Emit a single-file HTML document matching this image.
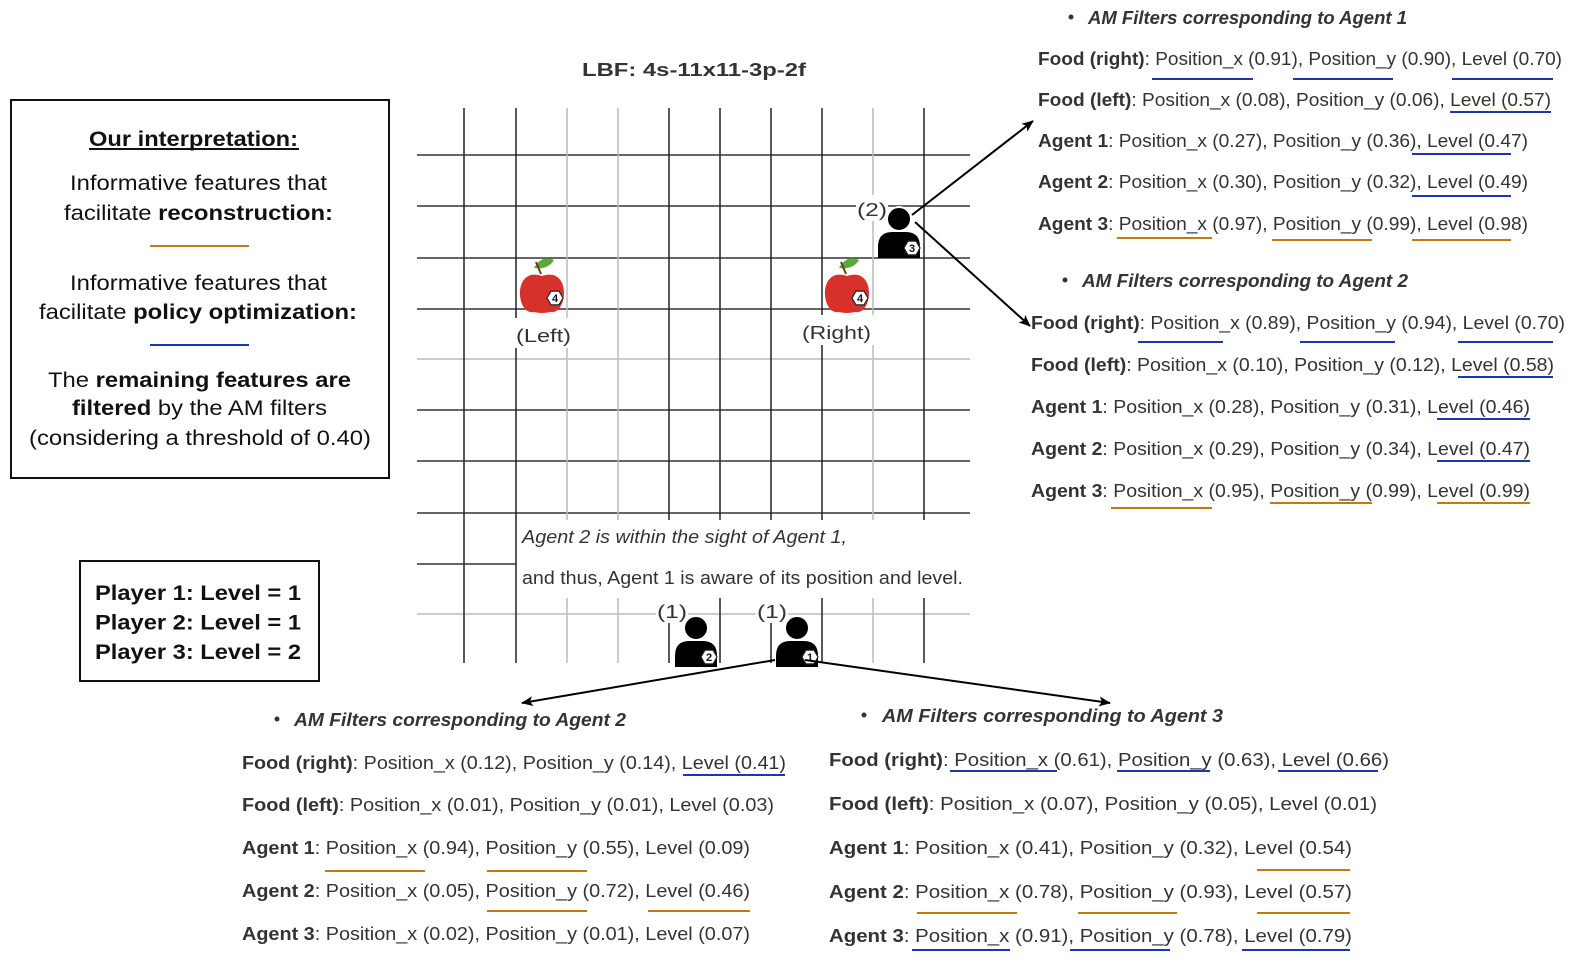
<!DOCTYPE html>
<html><head><meta charset="utf-8"><style>
html,body{margin:0;padding:0;background:#fff;overflow:hidden;}
svg{display:block;}
.t{font-family:"Liberation Sans",sans-serif;font-size:18px;fill:#333;}
.b{font-weight:bold;}
.lb{font-family:"Liberation Sans",sans-serif;font-size:21px;fill:#111;}
</style></head><body>
<svg id="fig" width="1578" height="962" viewBox="0 0 1578 962" xmlns="http://www.w3.org/2000/svg">
<defs>
<marker id="ah" markerWidth="12" markerHeight="10" refX="11" refY="5" orient="auto" markerUnits="userSpaceOnUse"><path d="M0,0 L12,5 L0,10 L3,5 Z" fill="#000"/></marker>
</defs>
<g id="grid"></g>
<g id="overlay"></g>
</svg>
<script>
const NS='http://www.w3.org/2000/svg';
const svg=document.getElementById('fig');
const grid=document.getElementById('grid');
const ov=document.getElementById('overlay');
const colX=[464,516,567,618,669,720,771,822,873,924];
const colLight=[false,false,true,true,false,false,false,false,true,false];
const rowY=[155,206,258,309,359,410,461,513,564,614];
const rowLight=[false,false,false,false,true,false,false,false,false,true];
function mk(tag,attrs,parent){const e=document.createElementNS(NS,tag);for(const k in attrs)e.setAttribute(k,attrs[k]);(parent||ov).appendChild(e);return e;}
rowY.forEach((y,i)=>{
  const x2 = (y===564)?516:970;
  const l=mk('line',{x1:417,y1:y,x2:x2,y2:y,stroke:rowLight[i]?'#ccc':'#333','stroke-width':rowLight[i]?2:1.5},grid);
  
  
});
colX.forEach((x,i)=>{
  const l=mk('line',{x1:x,y1:108,x2:x,y2:663,stroke:colLight[i]?'#bbb':'#222','stroke-width':1.5},grid);
  
  
});
mk('rect',{x:518,y:520,width:455,height:78,fill:'#fff'},grid);
mk('rect',{x:507,y:318,width:70,height:30,fill:'#fff'},grid);
mk('rect',{x:797,y:315,width:80,height:30,fill:'#fff'},grid);

function T(x,y,html,opts){
  opts=opts||{};
  const e=mk('text',Object.assign({x:x,y:y,class:opts.cls||'t'},opts.attrs||{}));
  e.innerHTML=html;
  if(opts.len){e.setAttribute('textLength',opts.len);e.setAttribute('lengthAdjust','spacingAndGlyphs');}
  return e;
}
function U(x1,x2,y,c){mk('line',{x1:x1,y1:y,x2:x2,y2:y,stroke:c,'stroke-width':2});}
const BL='#1c34b8', OR='#c4790f';

const title=T(582,76,'LBF: 4s-11x11-3p-2f',{attrs:{'font-weight':'bold','font-size':'21',fill:'#111'},len:224});



const box=mk('rect',{x:11,y:100,width:378,height:378,fill:'#fff',stroke:'#111','stroke-width':2});


T(89,146,'Our interpretation:',{cls:'lb',attrs:{'font-weight':'bold'},len:209});
U(89,299,149,'#111');
T(70,190,'Informative features that',{cls:'lb',len:257});
T(64,220,'facilitate <tspan font-weight="bold">reconstruction:</tspan>',{cls:'lb',len:269});
U(150,249,246,OR);
T(70,290,'Informative features that',{cls:'lb',len:257});
T(39,319,'facilitate <tspan font-weight="bold">policy optimization:</tspan>',{cls:'lb',len:318});
U(150,249,345,BL);
T(48,387,'The <tspan font-weight="bold">remaining features are</tspan>',{cls:'lb',len:303});
T(72,415,'<tspan font-weight="bold">filtered</tspan> by the AM filters',{cls:'lb',len:255});
T(29,445,'(considering a threshold of 0.40)',{cls:'lb',len:342});

const pb=mk('rect',{x:80,y:561,width:239,height:120,fill:'#fff',stroke:'#111','stroke-width':2});


['Player 1: Level = 1','Player 2: Level = 1','Player 3: Level = 2'].forEach((s,i)=>{
  T(95,600+i*29.5,s,{cls:'lb',attrs:{'font-weight':'bold'},len:206});
});

T(522,543,'Agent 2 is within the sight of Agent 1,',{attrs:{'font-style':'italic',fill:'#444'},len:325});
T(522,584,'and thus, Agent 1 is aware of its position and level.',{attrs:{fill:'#444'},len:441});

T(516,342,'(Left)',{attrs:{'font-size':'21',fill:'#444'},len:55});
T(802,339,'(Right)',{attrs:{'font-size':'21',fill:'#444'},len:69});

function badge(x,y,n,g){
  const r=8;let p='';for(let i=0;i<6;i++){const a=Math.PI/3*i;p+=(x+r*Math.cos(a)).toFixed(1)+','+(y+r*Math.sin(a)).toFixed(1)+' ';}
  mk('polygon',{points:p,fill:'#fff',stroke:'#222','stroke-width':1.2},g);
  const t=mk('text',{x:x,y:y+4,'text-anchor':'middle','font-family':'Liberation Sans','font-size':'11','font-weight':'bold',fill:'#111'},g);t.textContent=n;
}
function apple(cx,cy,name){
  const g=mk('g',{});
  
  
  mk('path',{d:`M${cx-8},${cy-22} Q${cx},${cy-36} ${cx+12},${cy-30} Q${cx+6},${cy-20} ${cx-8},${cy-22}Z`,fill:'#5aa83a'},g);
  mk('line',{x1:cx-1,y1:cy-16,x2:cx-6,y2:cy-28,stroke:'#6b3b1f','stroke-width':2},g);
  mk('path',{d:`M${cx},${cy-14} C${cx-30},${cy-24} ${cx-26},${cy+26} ${cx-8},${cy+22} Q${cx},${cy+24} ${cx+8},${cy+22} C${cx+26},${cy+26} ${cx+30},${cy-24} ${cx},${cy-14}Z`,fill:'#d8302b'},g);
  badge(cx+13,cy+8,'4',g);
}
apple(542,290,'food-left');
apple(847,290,'food-right');

function agent(hx,hy,n,name){
  const g=mk('g',{});
  
  
  mk('path',{d:`M${hx-21},${hy+39} L${hx-21},${hy+28} Q${hx-21},${hy+13} ${hx-7},${hy+13} L${hx+7},${hy+13} Q${hx+21},${hy+13} ${hx+21},${hy+28} L${hx+21},${hy+39}Z`,fill:'#000'},g);
  mk('circle',{cx:hx,cy:hy,r:12,fill:'#000',stroke:'#fff','stroke-width':2},g);
  badge(hx+13,hy+29,n,g);
}
[[857,208,'(2)'],[657,610,'(1)'],[757,610,'(1)']].forEach(a=>{
  mk('rect',{x:a[0]-1,y:a[1]-13,width:32,height:26,fill:'#fff'});
  T(a[0],a[1]+8,a[2],{attrs:{'font-size':'21',fill:'#444'},len:30});
});
agent(899,219,'3','agent-3');
agent(696,628,'2','agent-2');
agent(797,628,'1','agent-1');

[[912,215,1033,121],[915,222,1030,326],[775,660,522,703],[805,660,1110,703]].forEach(a=>{
  const l=mk('line',{x1:a[0],y1:a[1],x2:a[2],y2:a[3],stroke:'#000','stroke-width':2,'marker-end':'url(#ah)'});
  
  
});

function list(hdr, rows){
  const g=mk('g',{});
  
  
  mk('circle',{cx:hdr.bx,cy:hdr.y-1,r:2.5,fill:'#333'});
  T(hdr.x,hdr.y+6,hdr.text,{attrs:{'font-weight':'bold','font-style':'italic'},len:hdr.x2-hdr.x});
  rows.forEach(r=>{
    T(r.x,r.y+6,'<tspan font-weight="bold">'+r.k+'</tspan>: '+r.v,{len:r.x2-r.x});
  });
}
const L1=['Food (right)','Food (left)','Agent 1','Agent 2','Agent 3'];
list({bx:1071,x:1088,x2:1407,y:18,text:'AM Filters corresponding to Agent 1'},[
 {x:1038,x2:1562,y:59,k:L1[0],v:'Position_x (0.91), Position_y (0.90), Level (0.70)'},
 {x:1038,x2:1551,y:100,k:L1[1],v:'Position_x (0.08), Position_y (0.06), Level (0.57)'},
 {x:1038,x2:1528,y:141,k:L1[2],v:'Position_x (0.27), Position_y (0.36), Level (0.47)'},
 {x:1038,x2:1528,y:182,k:L1[3],v:'Position_x (0.30), Position_y (0.32), Level (0.49)'},
 {x:1038,x2:1528,y:224,k:L1[4],v:'Position_x (0.97), Position_y (0.99), Level (0.98)'}]);
list({bx:1065,x:1082,x2:1408,y:281,text:'AM Filters corresponding to Agent 2'},[
 {x:1031,x2:1565,y:323,k:L1[0],v:'Position_x (0.89), Position_y (0.94), Level (0.70)'},
 {x:1031,x2:1554,y:365,k:L1[1],v:'Position_x (0.10), Position_y (0.12), Level (0.58)'},
 {x:1031,x2:1530,y:407,k:L1[2],v:'Position_x (0.28), Position_y (0.31), Level (0.46)'},
 {x:1031,x2:1530,y:449,k:L1[3],v:'Position_x (0.29), Position_y (0.34), Level (0.47)'},
 {x:1031,x2:1530,y:491,k:L1[4],v:'Position_x (0.95), Position_y (0.99), Level (0.99)'}]);
list({bx:277,x:294,x2:626,y:720,text:'AM Filters corresponding to Agent 2'},[
 {x:242,x2:786,y:763,k:L1[0],v:'Position_x (0.12), Position_y (0.14), Level (0.41)'},
 {x:242,x2:774,y:805,k:L1[1],v:'Position_x (0.01), Position_y (0.01), Level (0.03)'},
 {x:242,x2:750,y:848,k:L1[2],v:'Position_x (0.94), Position_y (0.55), Level (0.09)'},
 {x:242,x2:750,y:891,k:L1[3],v:'Position_x (0.05), Position_y (0.72), Level (0.46)'},
 {x:242,x2:750,y:934,k:L1[4],v:'Position_x (0.02), Position_y (0.01), Level (0.07)'}]);
list({bx:864,x:882,x2:1223,y:716,text:'AM Filters corresponding to Agent 3'},[
 {x:829,x2:1389,y:760,k:L1[0],v:'Position_x (0.61), Position_y (0.63), Level (0.66)'},
 {x:829,x2:1377,y:804,k:L1[1],v:'Position_x (0.07), Position_y (0.05), Level (0.01)'},
 {x:829,x2:1352,y:848,k:L1[2],v:'Position_x (0.41), Position_y (0.32), Level (0.54)'},
 {x:829,x2:1352,y:892,k:L1[3],v:'Position_x (0.78), Position_y (0.93), Level (0.57)'},
 {x:829,x2:1352,y:936,k:L1[4],v:'Position_x (0.91), Position_y (0.78), Level (0.79)'}]);

[[1152,1253,79,BL],[1293,1393,79,BL],[1452,1553,79,BL],[1450,1551,112,BL],[1412,1511,154,BL],[1412,1511,196,BL],
 [1117,1212,238,OR],[1272,1372,240,OR],[1412,1511,240,OR],
 [1138,1223,342,BL],[1300,1395,342,BL],[1458,1553,342,BL],[1458,1553,377,BL],[1437,1530,419,BL],[1437,1530,461,BL],
 [1111,1212,508,OR],[1270,1372,503,OR],[1437,1530,503,OR],
 [683,785,775,BL],[325,425,871,OR],[487,587,871,OR],[487,587,911,OR],[648,750,911,OR],
 [950,1057,771,BL],[1117,1210,771,BL],[1278,1378,771,BL],[1257,1350,870,OR],[917,1017,913,OR],[1078,1177,913,OR],[1257,1350,913,OR],
 [912,1010,950,BL],[1070,1170,950,BL],[1242,1350,950,BL]
].forEach(u=>U(u[0],u[1],u[2],u[3]));
</script>
</body></html>
